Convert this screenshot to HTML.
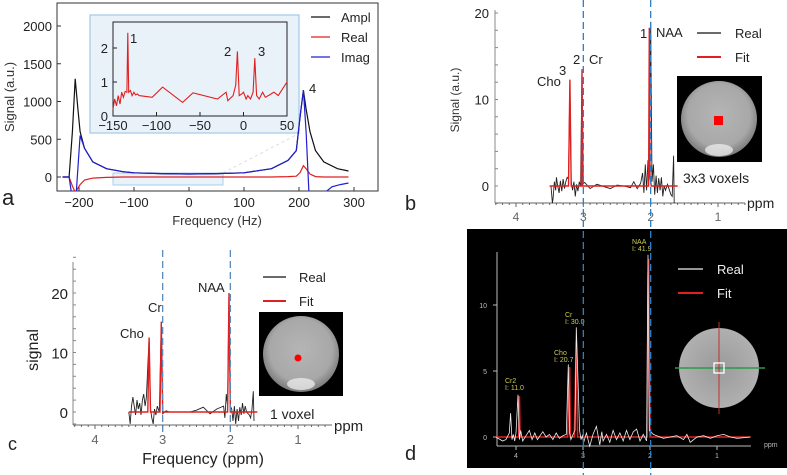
<!DOCTYPE html>
<html><head><meta charset="utf-8"><style>
body{margin:0;background:#fff}
svg{display:block;font-family:"Liberation Sans",sans-serif}
</style></head><body>
<svg id="fig" width="787" height="475" viewBox="0 0 787 475">
<defs>
<radialGradient id="ph" cx="50%" cy="45%" r="55%"><stop offset="0" stop-color="#b5b5b5"/><stop offset="0.75" stop-color="#a8a8a8"/><stop offset="1" stop-color="#7a7a7a"/></radialGradient>
<radialGradient id="phd" cx="50%" cy="50%" r="50%"><stop offset="0" stop-color="#9a9a9a"/><stop offset="1" stop-color="#b0b0b0"/></radialGradient>
</defs>
<g id="gA"></g>
<g id="gB"></g>
<g id="gD"></g>
<g id="gC"></g>
<g id="gL"></g>
</svg>
<script>
// ---------- data ----------
const aX = [-230,-218,-212,-207,-202,-198,-190,-175,-150,-120,-100,-50,0,50,100,150,180,195,202,208,213,220,230,245,270,290];
const aAmpl = [0,0,600,1300,900,600,380,200,110,70,55,45,40,45,55,110,220,350,800,1150,900,600,350,200,110,80];
const aRealY = [0,0,-120,-200,-150,-100,-40,-15,-5,0,0,0,0,0,0,0,5,10,60,150,110,40,5,0,0,0];
const aImagX = [-230,-218,-214,-205,-198,-190,-175,-150,-120,-100,-50,0,50,100,150,180,195,202,208,213,218];
const aImagY = [0,0,-200,-200,550,380,200,110,70,55,45,40,45,55,110,220,350,800,1150,600,-200];
const aImag2X = [248,260,275,290];
const aImag2Y = [-200,-130,-100,-80];
const insX = [-150,-148,-146,-144,-142,-140,-138,-136,-134,-133,-132,-130,-128,-126,-124,-122,-120,-105,-93,-70,-58,-30,-20,-18,-12,-9,-7,-5,-2,0,3,5,8,11,13,15,18,22,25,30,35,40,45,50];
const insY = [0.2,0.5,0.3,0.6,0.35,0.7,0.55,0.72,0.7,2.45,0.7,0.75,0.6,0.7,0.62,0.65,0.6,0.55,0.85,0.4,0.68,0.5,0.7,0.45,0.6,0.9,1.9,0.6,0.65,0.7,0.5,0.6,0.5,0.7,1.7,0.6,0.5,0.7,0.55,0.62,0.7,0.6,0.8,1.0];
const aXTicks = [-200,-100,0,100,200,300];
const aYTicks = [0,500,1000,1500,2000];
const insXTicks = [-150,-100,-50,0,50];
const insYTicks = [0,1,2];

const bRealX = [3.5,3.48,3.46,3.45,3.43,3.41,3.4,3.38,3.36,3.34,3.32,3.3,3.28,3.26,3.24,3.22,3.2,3.18,3.16,3.14,3.12,3.1,3.08,3.06,3.04,3.02,3.0,2.98,2.9,2.8,2.6,2.5,2.4,2.3,2.25,2.2,2.15,2.12,2.1,2.08,2.06,2.04,2.02,2.0,1.98,1.96,1.94,1.92,1.9,1.88,1.86,1.84,1.82,1.8,1.78,1.75,1.72,1.7,1.68,1.66,1.65];
const bRealY = [0,0,-2,-1.5,0.5,-0.5,1,0,-0.8,0.6,-0.6,0.8,-0.3,0.5,1,0.8,12,0.5,-0.5,0.5,-1.2,0.2,-0.6,0.5,0,13.5,0.3,0.4,-0.3,0.2,-0.3,0.1,0,-0.2,0.5,-0.3,0.3,1.5,-0.8,2.5,-0.5,3,1.5,19,0.5,2.5,-1,1.2,-0.8,0.9,-0.5,1,-1.2,0,-0.5,0.2,-0.5,-1,-1.2,3.5,-2];
const bFitX = [3.5,3.25,3.22,3.2,3.18,3.05,3.03,3.02,3.01,2.99,2.05,2.03,2.02,2.01,1.99,1.6];
const bFitY = [0,0,0,12.3,0,0,0,13.5,0,0,0,0,18.3,1,0,0];
const cRealX = [3.5,3.48,3.46,3.44,3.42,3.4,3.38,3.36,3.34,3.32,3.3,3.28,3.26,3.24,3.2,3.18,3.16,3.14,3.12,3.1,3.08,3.05,3.02,3.0,2.95,2.9,2.6,2.5,2.4,2.3,2.2,2.1,2.08,2.06,2.04,2.02,2.0,1.98,1.96,1.94,1.92,1.9,1.88,1.86,1.84,1.82,1.8,1.78,1.76,1.72,1.7,1.68,1.66,1.65];
const cRealY = [0,-2,1,2.5,1,-0.5,2,0.5,1.5,-0.5,2,3,1,2.5,12.5,0.5,-1,-2,0.5,-0.5,1,0,15,-0.3,0.2,0,0,0.3,0.8,-0.3,0.5,1,-1,3,1,20,1,0.5,-1.5,1,-2,0.5,-1.5,0.8,-0.5,1.5,-0.3,1,0,-0.5,-1,0.5,3.5,-1.5];
const cFitX = [3.5,3.22,3.2,3.18,3.04,3.02,3.0,2.04,2.02,2.0,1.6];
const cFitY = [0,0,12.5,0,0,15.2,0,0,20,0,0];
const dRealX = [4.3,4.2,4.15,4.1,4.08,4.06,4.04,4.02,4.0,3.97,3.95,3.93,3.9,3.85,3.8,3.76,3.72,3.68,3.6,3.55,3.5,3.45,3.4,3.35,3.3,3.25,3.22,3.2,3.18,3.15,3.12,3.1,3.05,3.03,3.01,2.99,2.95,2.9,2.85,2.8,2.75,2.72,2.7,2.65,2.6,2.55,2.5,2.45,2.4,2.35,2.3,2.25,2.2,2.15,2.1,2.05,2.03,2.01,1.99,1.95,1.9,1.8,1.7,1.6,1.5,1.45,1.4,1.3,1.2,1.1,1.0,0.9,0.8,0.7,0.5];
const dRealY = [0,-0.3,-0.2,0.3,1.8,-0.2,0.2,-0.3,0.3,3.2,-0.2,0.5,-0.3,0.1,0.5,-0.2,0.3,-0.2,0.4,0,0.2,-0.2,0.3,-0.1,0.1,0.2,5.5,0.3,-0.2,0.2,0.5,8.3,0.5,-0.2,0.1,-0.4,0.3,-0.7,0.2,0.8,-0.6,0.4,-0.3,0.2,-0.4,0.5,-0.2,0.3,-0.3,0.5,-0.2,0.4,0.6,-0.3,0.2,-0.3,13.8,0.5,0.4,0.2,0.1,-0.1,0,0.1,-0.2,0.2,-0.4,0,0.1,-0.1,0.1,0.2,0,-0.1,0];
const dFitX = [4.3,3.96,3.95,3.94,3.23,3.21,3.2,3.19,3.13,3.1,3.08,3.04,2.04,2.03,2.02,2.0,0.5];
const dFitY = [0,0,3.1,0,0,4,5.3,0,0,7.3,0,0,0,12,13.5,0,0];
const ppmTicks = [4,3,2,1];
const bYTicks = [0,10,20];
const cYTicks = [0,10,20];
const dYTicks = [0,5,10];
const guidePpm = [3,2];

// ---------- helpers ----------
const NS='http://www.w3.org/2000/svg';
function mk(tag,attrs,parent,name){const e=document.createElementNS(NS,tag);for(const k in attrs)e.setAttribute(k,attrs[k]);


parent.appendChild(e);return e;}
function txt(s,x,y,attrs,parent,name){const e=mk('text',Object.assign({x:x,y:y},attrs),parent,name);e.textContent=s;return e;}
function lin(x0,x1,p0,p1){return v=>p0+(v-x0)*(p1-p0)/(x1-x0);}
function path(xs,ys,sx,sy){return xs.map((v,i)=>(i?'L':'M')+sx(v).toFixed(1)+','+sy(ys[i]).toFixed(1)).join('');}

// ---------- panel a ----------
const A=document.getElementById('gA');
const ax=lin(-200,300,79,354), ay=lin(0,2000,177,26);
mk('rect',{x:57,y:3,width:321,height:188,fill:'#fff',stroke:'#333','stroke-width':1},A,'plot-frame-a');
mk('rect',{x:90,y:15,width:209,height:118,fill:'#eaf2f9',stroke:'#a8ccec','stroke-width':1.3},A,'inset-background');
mk('rect',{x:113,y:173,width:110,height:12,fill:'#eaf2f9',stroke:'#a8ccec','stroke-width':1},A,'zoom-region-box');
mk('line',{x1:223,y1:173,x2:300,y2:133,stroke:'#ddd','stroke-dasharray':'3,3'},A,'zoom-connector');
const clipA=mk('clipPath',{id:'ca'},A,'clip-a');mk('rect',{x:57,y:3,width:321,height:188},clipA,'clip-rect');
const sA=mk('g',{'clip-path':'url(#ca)'},A,'series-a');
mk('path',{d:path(aX,aRealY,ax,ay),fill:'none',stroke:'#e02020','stroke-width':1.2},sA,'real-line');
mk('path',{d:path(aX,aAmpl,ax,ay),fill:'none',stroke:'#111','stroke-width':1.2},sA,'ampl-line');
mk('path',{d:path(aImagX,aImagY,ax,ay),fill:'none',stroke:'#2020d0','stroke-width':1.2},sA,'imag-line');
mk('path',{d:path(aImag2X,aImag2Y,ax,ay),fill:'none',stroke:'#2020d0','stroke-width':1.2},sA,'imag-line-2');
aXTicks.forEach(t=>{mk('line',{x1:ax(t),x2:ax(t),y1:191,y2:187,stroke:'#333'},A,'x-tick');txt(String(t).replace('-','−'),ax(t),207,{'font-size':13,'text-anchor':'middle',fill:'#222'},A,'x-tick-label');});
aYTicks.forEach(t=>{mk('line',{x1:57,x2:61,y1:ay(t),y2:ay(t),stroke:'#333'},A,'y-tick');txt(String(t),52,ay(t)+5,{'font-size':13,'text-anchor':'end',fill:'#222'},A,'y-tick-label');});
txt('Frequency (Hz)',217,225,{'font-size':13,'text-anchor':'middle',fill:'#333'},A,'x-axis-title');
txt('Signal (a.u.)',14,97,{'font-size':13,'text-anchor':'middle',fill:'#333',transform:'rotate(-90 14 97)'},A,'y-axis-title');
txt('a',2,205,{'font-size':22,fill:'#222'},A,'panel-label-a');
txt('4',309,93,{'font-size':13,fill:'#222'},A,'peak-label-4');
[['Ampl','#111',17],['Real','#e02020',37],['Imag','#2020d0',57]].forEach(l=>{mk('line',{x1:311,x2:330,y1:l[2],y2:l[2],stroke:l[1],'stroke-width':1.3},A,'legend-line');txt(l[0],341,l[2]+5,{'font-size':13,fill:'#222'},A,'legend-entry');});
// inset
const ix=lin(-150,50,113,287), iy=lin(0,2,116,48);
mk('rect',{x:113,y:22,width:174,height:94,fill:'#eaf2f9',stroke:'#222','stroke-width':1},A,'inset-frame');
mk('path',{d:path(insX,insY,ix,iy),fill:'none',stroke:'#e02020','stroke-width':1.1},A,'inset-real-line');
insXTicks.forEach(t=>{mk('line',{x1:ix(t),x2:ix(t),y1:116,y2:112,stroke:'#222'},A,'inset-x-tick');txt(String(t).replace('-','−'),ix(t),130,{'font-size':13,'text-anchor':'middle',fill:'#222'},A,'inset-x-label');});
insYTicks.forEach(t=>{mk('line',{x1:113,x2:117,y1:iy(t),y2:iy(t),stroke:'#222'},A,'inset-y-tick');txt(String(t),108,iy(t)+5,{'font-size':13,'text-anchor':'end',fill:'#222'},A,'inset-y-label');});
txt('1',130,43,{'font-size':13,fill:'#222'},A,'peak-label-1');
txt('2',224,56,{'font-size':13,fill:'#222'},A,'peak-label-2');
txt('3',258,56,{'font-size':13,fill:'#222'},A,'peak-label-3');

// ---------- spectrum panel builder ----------
function ppmAxis(G,sx,y0,xl,xr,col,fs,name){
  mk('line',{x1:xl,x2:xr,y1:y0,y2:y0,stroke:col},G,name+'-x-axis');
  for(let v=4.3;v>=0.5;v-=0.1){mk('line',{x1:sx(v),x2:sx(v),y1:y0,y2:y0+2,stroke:col},G,'minor-tick');}
  ppmTicks.forEach(t=>{mk('line',{x1:sx(t),x2:sx(t),y1:y0,y2:y0+4,stroke:col},G,'x-tick');txt(String(t),sx(t),y0+fs+6,{'font-size':fs,'text-anchor':'middle',fill:col},G,'x-tick-label');});
}
// panel b
const B=document.getElementById('gB');
const bx=lin(4,1,516,718), by=lin(0,20,186,13);
mk('line',{x1:495,x2:495,y1:10,y2:203,stroke:'#888'},B,'y-axis-b');
for(let v=-2;v<=20;v+=2)mk('line',{x1:495,x2:498,y1:by(v),y2:by(v),stroke:'#888'},B,'minor-y-tick');
bYTicks.forEach(t=>txt(String(t),489,by(t)+5,{'font-size':13,'text-anchor':'end',fill:'#222'},B,'y-tick-label'));
ppmAxis(B,bx,203,495,745,'#666',12,'b');
txt('ppm',747,208,{'font-size':14,fill:'#222'},B,'x-unit-b');
txt('Signal (a.u.)',459,100,{'font-size':12,'text-anchor':'middle',fill:'#333',transform:'rotate(-90 459 100)'},B,'y-axis-title-b');
mk('path',{d:path(bRealX,bRealY,bx,by),fill:'none',stroke:'#222','stroke-width':0.9},B,'real-line-b');
mk('path',{d:path(bFitX,bFitY,bx,by),fill:'none',stroke:'#e02020','stroke-width':1.4},B,'fit-line-b');
txt('b',405,210,{'font-size':20,fill:'#222'},B,'panel-label-b');
txt('Cho',537,86,{'font-size':13,fill:'#222'},B,'label-cho');txt('3',559,75,{'font-size':13,fill:'#222'},B,'label-3');
txt('2',573,64,{'font-size':13,fill:'#222'},B,'label-2');txt('Cr',589,64,{'font-size':13,fill:'#222'},B,'label-cr');
txt('1',640,38,{'font-size':13,fill:'#222'},B,'label-1');txt('NAA',656,37,{'font-size':13,fill:'#222'},B,'label-naa');
mk('line',{x1:697,x2:721,y1:33,y2:33,stroke:'#111','stroke-width':1.3},B,'legend-line-real');txt('Real',735,38,{'font-size':13,fill:'#222'},B,'legend-real');
mk('line',{x1:697,x2:721,y1:57,y2:57,stroke:'#e02020','stroke-width':2},B,'legend-line-fit');txt('Fit',735,62,{'font-size':13,fill:'#222'},B,'legend-fit');
mk('rect',{x:677,y:76,width:85,height:86,fill:'#000'},B,'image-b');
mk('circle',{cx:719,cy:119,r:38,fill:'url(#ph)'},B,'phantom-b');
mk('ellipse',{cx:719,cy:150,rx:14,ry:6,fill:'#e8e8e8',opacity:0.8},B,'bright-spot-b');
mk('rect',{x:714,y:116,width:9,height:9,fill:'#f00'},B,'voxel-marker-b');
txt('3x3 voxels',683,183,{'font-size':14,fill:'#222'},B,'voxel-label-b');

// panel c
const C=document.getElementById('gC');
const cx=lin(4,1,95,298), cy=lin(0,20,412,293);
mk('line',{x1:73,x2:73,y1:262,y2:425,stroke:'#888'},C,'y-axis-c');
for(let v=-2;v<=26;v+=2)mk('line',{x1:73,x2:76,y1:cy(v),y2:cy(v),stroke:'#888'},C,'minor-y-tick');
cYTicks.forEach(t=>txt(String(t),68,cy(t)+6,{'font-size':15,'text-anchor':'end',fill:'#222'},C,'y-tick-label'));
ppmAxis(C,cx,425,73,332,'#666',13,'c');
txt('ppm',334,431,{'font-size':15,fill:'#222'},C,'x-unit-c');
txt('Frequency (ppm)',203,464,{'font-size':16,'text-anchor':'middle',fill:'#222'},C,'x-axis-title-c');
txt('signal',38,350,{'font-size':16,'text-anchor':'middle',fill:'#222',transform:'rotate(-90 38 350)'},C,'y-axis-title-c');
mk('path',{d:path(cRealX,cRealY,cx,cy),fill:'none',stroke:'#222','stroke-width':0.9},C,'real-line-c');
mk('path',{d:path(cFitX,cFitY,cx,cy),fill:'none',stroke:'#e02020','stroke-width':1.4},C,'fit-line-c');
txt('c',8,450,{'font-size':18,fill:'#222'},C,'panel-label-c');
txt('Cho',120,338,{'font-size':13,fill:'#222'},C,'label-cho-c');
txt('Cr',148,312,{'font-size':13,fill:'#222'},C,'label-cr-c');
txt('NAA',198,292,{'font-size':13,fill:'#222'},C,'label-naa-c');
mk('line',{x1:263,x2:286,y1:277,y2:277,stroke:'#111','stroke-width':1.3},C,'legend-line-real-c');txt('Real',299,282,{'font-size':13,fill:'#222'},C,'legend-real-c');
mk('line',{x1:263,x2:286,y1:301,y2:301,stroke:'#e02020','stroke-width':2},C,'legend-line-fit-c');txt('Fit',299,306,{'font-size':13,fill:'#222'},C,'legend-fit-c');
mk('rect',{x:259,y:312,width:84,height:84,fill:'#000'},C,'image-c');
mk('circle',{cx:301,cy:354,r:38,fill:'url(#ph)'},C,'phantom-c');
mk('ellipse',{cx:301,cy:384,rx:14,ry:6,fill:'#e8e8e8',opacity:0.8},C,'bright-spot-c');
mk('circle',{cx:298,cy:358,r:3.5,fill:'#f00'},C,'voxel-marker-c');
txt('1 voxel',270,419,{'font-size':14,fill:'#222'},C,'voxel-label-c');

// panel d
const D=document.getElementById('gD');
mk('rect',{x:467,y:229,width:320,height:239,fill:'#000'},D,'panel-d-background');
const dx=lin(4,1,516,717), dy=lin(0,10,437,305);
mk('line',{x1:497,x2:497,y1:252,y2:446,stroke:'#bbb'},D,'y-axis-d');
dYTicks.forEach(t=>{mk('line',{x1:493,x2:497,y1:dy(t),y2:dy(t),stroke:'#bbb'},D,'y-tick');txt(String(t),487,dy(t)+3,{'font-size':7,'text-anchor':'end',fill:'#bbb'},D,'y-tick-label');});
mk('line',{x1:497,x2:751,y1:446,y2:446,stroke:'#bbb'},D,'x-axis-d');
ppmTicks.forEach(t=>{mk('line',{x1:dx(t),x2:dx(t),y1:446,y2:450,stroke:'#bbb'},D,'x-tick');txt(String(t),dx(t),458,{'font-size':7,'text-anchor':'middle',fill:'#bbb'},D,'x-tick-label');});
txt('ppm',764,447,{'font-size':7,fill:'#bbb'},D,'x-unit-d');
mk('path',{d:path(dFitX,dFitY,dx,dy),fill:'none',stroke:'#e02020','stroke-width':1.6},D,'fit-line-d');
mk('path',{d:path(dRealX,dRealY,dx,dy),fill:'none',stroke:'#eee','stroke-width':0.8},D,'real-line-d');
[['Cr2',505,383],['I: 11.0',505,390],['Cho',554,355],['I: 20.7',554,362],['Cr',565,317],['I: 30.0',565,324],['NAA',632,244],['I: 41.9',632,251]].forEach(l=>txt(l[0],l[1],l[2],{'font-size':7,fill:'#cccc55'},D,'peak-annotation'));
mk('line',{x1:678,x2:703,y1:269,y2:269,stroke:'#eee','stroke-width':1.3},D,'legend-line-real-d');txt('Real',717,274,{'font-size':13,fill:'#eee'},D,'legend-real-d');
mk('line',{x1:678,x2:703,y1:293,y2:293,stroke:'#e02020','stroke-width':2},D,'legend-line-fit-d');txt('Fit',717,298,{'font-size':13,fill:'#eee'},D,'legend-fit-d');
mk('circle',{cx:719,cy:368,r:40,fill:'url(#phd)'},D,'phantom-d');
mk('line',{x1:675,x2:765,y1:368,y2:368,stroke:'#2a9a4a','stroke-width':1.5},D,'green-crosshair');
mk('line',{x1:719,x2:719,y1:322,y2:414,stroke:'#c03030','stroke-width':1},D,'red-crosshair');
mk('rect',{x:714,y:363,width:10,height:10,fill:'none',stroke:'#fff','stroke-width':1.3},D,'voxel-box-d');
txt('d',405,460,{'font-size':20,fill:'#222'},D,'panel-label-d');

// guides
const L=document.getElementById('gL');
guidePpm.forEach(p=>{mk('line',{x1:bx(p),x2:bx(p),y1:0,y2:475,stroke:'#2a80c8','stroke-width':1.3,'stroke-dasharray':'7,4'},L,'guide-line-right');
 mk('line',{x1:cx(p),x2:cx(p),y1:250,y2:432,stroke:'#5a8ab8','stroke-width':1.3,'stroke-dasharray':'7,4'},L,'guide-line-left');});
</script>
</body></html>
